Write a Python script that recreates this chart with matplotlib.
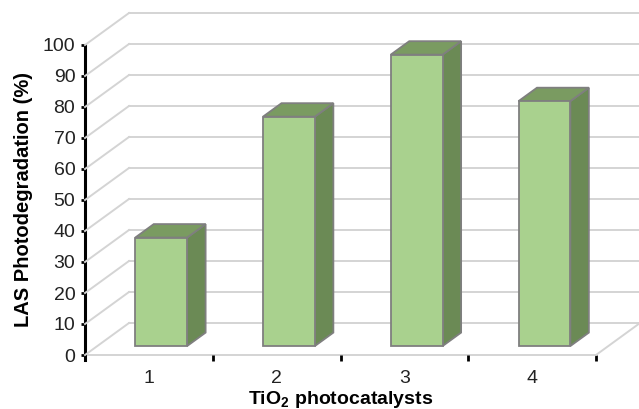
import matplotlib
matplotlib.use('Agg')
import matplotlib.pyplot as plt
from matplotlib.patches import Polygon
from matplotlib.lines import Line2D
from matplotlib.transforms import ScaledTranslation

plt.rcParams['font.family'] = ['Liberation Sans', 'DejaVu Sans']

# Photodegradation of LAS for each TiO2 photocatalyst
catalysts = ['1', '2', '3', '4']
degradation = [35, 74, 94, 79]
y_ticks = list(range(0, 101, 10))

W, H, DPI = 639, 409, 100
fig = plt.figure(figsize=(W / DPI, H / DPI), dpi=DPI)

# front plane of the 3-D box in pixels
x0, x1 = 85, 596
y0, y1 = 355, 45
ax = fig.add_axes([x0 / W, 1 - y0 / H, (x1 - x0) / W, (y0 - y1) / H])
ax.set_xlim(0.5, len(catalysts) + 0.5)
ax.set_ylim(0, 100)

# depth of the box (pixels right / up from the front plane)
DX, DY = 44, 32


def shifted(f):
    return ax.transData + ScaledTranslation(DX * f / DPI, DY * f / DPI, fig.dpi_scale_trans)


grid_c = '#d4d4d4'
xl, xr = ax.get_xlim()
back = shifted(1.0)
for v in y_ticks:
    # side wall diagonal
    p_front = ax.transData.transform((xl, v))
    p_back = back.transform((xl, v))
    fig.add_artist(Line2D([p_front[0], p_back[0]], [p_front[1], p_back[1]], transform=None,
                          color=grid_c, lw=1.4, zorder=1))
    # back wall line
    ax.add_line(Line2D([xl, xr], [v, v], transform=back, color=grid_c, lw=1.4,
                       clip_on=False, zorder=1))

# floor front edge and right edge
ax.add_line(Line2D([xl, xr], [0, 0], color=grid_c, lw=1.4, clip_on=False, zorder=1))
pf = ax.transData.transform((xr, 0))
pb = back.transform((xr, 0))
fig.add_artist(Line2D([pf[0], pb[0]], [pf[1], pb[1]], transform=None,
                      color=grid_c, lw=1.4, zorder=1))

# 3-D bars
front_c, side_c, top_c, edge_c = '#a9d18e', '#6b8a55', '#7a9b61', '#7f7f7f'
half = 0.203
f_front, f_back = 0.28, 0.70
tf, tb = shifted(f_front), shifted(f_back)


def to_front(pt):
    # back-face corner expressed in the front face's coordinates
    return tf.inverted().transform(tb.transform(pt))


for i, v in enumerate(degradation):
    c = i + 1
    bl, br = c - half, c + half
    side = [(br, 0), to_front((br, 0)), to_front((br, v)), (br, v)]
    top = [(bl, v), (br, v), to_front((br, v)), to_front((bl, v))]
    face = [(bl, 0), (br, 0), (br, v), (bl, v)]
    for pts, col in ((side, side_c), (top, top_c), (face, front_c)):
        ax.add_patch(Polygon(pts, closed=True, transform=tf, facecolor=col,
                             edgecolor=edge_c, lw=1.3, joinstyle='miter',
                             clip_on=False, zorder=3))

for s in ('top', 'right', 'bottom'):
    ax.spines[s].set_visible(False)
ax.spines['left'].set_linewidth(2.2)
ax.spines['left'].set_bounds(-1.5, 100)
ax.set_facecolor('none')

ax.set_yticks(y_ticks)
ax.tick_params(axis='y', length=3, width=2, labelsize=14, pad=4, labelcolor='#222222')

ax.set_xticks([k + 0.5 for k in range(len(catalysts) + 1)])
ax.set_xticklabels([])
ax.tick_params(axis='x', which='major', length=4, width=2, direction='out', pad=2)
ax.set_xticks(range(1, len(catalysts) + 1), minor=True)
ax.set_xticklabels(catalysts, minor=True)
ax.tick_params(axis='x', which='minor', length=0, labelsize=14, pad=11, labelcolor='#222222')

ax.set_ylabel('LAS Photodegradation (%)', fontsize=14.5, fontweight='bold', labelpad=7)
ax.set_xlabel('TiO$_\\mathregular{2}$ photocatalysts', fontsize=14, fontweight='bold', labelpad=1)

fig.savefig('out.png', dpi=DPI)
